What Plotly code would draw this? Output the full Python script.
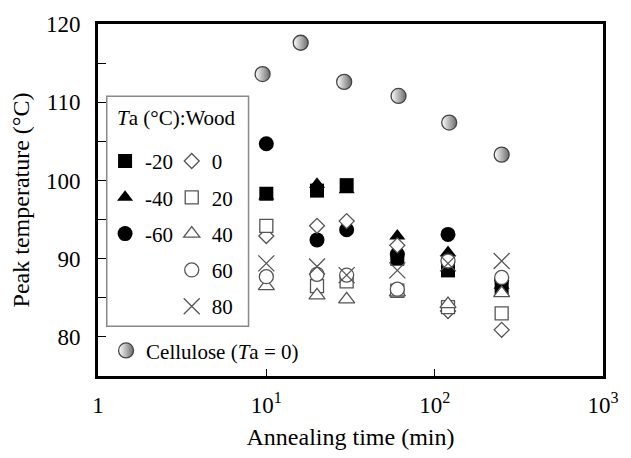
import plotly.graph_objects as go

# ---- data ----
times = [10, 20, 30, 60, 120, 250]
ta_m20 = [98.3, 98.7, 99.4, 90.0, 88.5, 86.0]
ta_m40 = [98.0, 99.5, 98.8, 92.9, 90.8, 86.6]
ta_m60 = [104.7, 92.4, 93.7, 90.6, 93.1, 87.2]
ta_0 = [92.9, 94.2, 94.8, 91.7, 83.3, 80.9]
ta_20 = [94.2, 86.5, 87.1, 85.9, 83.8, 83.0]
ta_40 = [86.5, 85.3, 84.8, 85.7, 84.2, 85.6]
ta_60 = [87.7, 88.0, 87.9, 86.1, 89.7, 87.6]
ta_80 = [89.4, 89.0, 87.9, 88.5, 89.4, 89.7]

cell_times = [9.5, 16, 29, 61, 122, 250]
cell_vals = [113.6, 117.6, 112.6, 110.8, 107.4, 103.3]

xtick_vals = [1, 10, 100, 1000]
xtick_text = ["1", "10<sup>1</sup>", "10<sup>2</sup>", "10<sup>3</sup>"]
ytick_vals = [80, 90, 100, 110, 120]

FONT = "Liberation Serif"
GRAY = "#555555"
LFS = 21

fig = go.Figure()

filled = [("-20", ta_m20, "square", 14), ("-40", ta_m40, "triangle-up", 14), ("-60", ta_m60, "circle", 15)]
for name, vals, sym, sz in filled:
    fig.add_trace(go.Scatter(
        x=times, y=vals, mode="markers", name=name, legend="legend",
        legendgroup="g" + name,
        marker=dict(symbol=sym, size=sz, color="black", line=dict(width=0))))

openm = [("0", ta_0, "diamond", 11.5), ("20", ta_20, "square", 13), ("40", ta_40, "triangle-up", 14),
         ("60", ta_60, "circle", 14)]
for name, vals, sym, sz in openm:
    fig.add_trace(go.Scatter(
        x=times, y=vals, mode="markers", name=name, legend="legend2",
        legendgroup="h" + name,
        marker=dict(symbol=sym, size=sz, color="white", line=dict(width=1.3, color=GRAY))))
fig.add_trace(go.Scatter(
    x=times, y=ta_80, mode="markers", name="80", legend="legend2", legendgroup="h80",
    marker=dict(symbol="x-thin-open", size=16, color=GRAY, line=dict(width=1.3, color=GRAY))))

fig.add_trace(go.Scatter(
    x=cell_times, y=cell_vals, mode="markers", name="Cellulose (<i>T</i>a = 0)", legend="legend3",
    marker=dict(symbol="circle", size=15, color="white",
                gradient=dict(type="horizontal", color="#6a6a6a"),
                line=dict(width=1.3, color="#444444"))))

legend_common = dict(bgcolor="rgba(0,0,0,0)", borderwidth=0,
                     font=dict(family=FONT, size=LFS, color="black"),
                     traceorder="grouped", tracegroupgap=6,
                     xanchor="left", yanchor="top", itemclick=False)

fig.update_layout(
    width=631, height=458,
    margin=dict(l=98, r=13, t=20, b=78),
    paper_bgcolor="white", plot_bgcolor="white",
    font=dict(family=FONT, size=20, color="black"),
    showlegend=True,
    legend=dict(x=0.014, y=0.668, **legend_common),
    legend2=dict(x=0.146, y=0.668, **legend_common),
    legend3=dict(x=0.016, y=0.13, **legend_common),
    xaxis=dict(type="log", range=[0, 3], tickvals=xtick_vals, ticktext=xtick_text,
               ticks="inside", ticklen=7, tickwidth=1.2, tickcolor="black",
               showline=True, linewidth=3, linecolor="black", mirror=True,
               showgrid=False, zeroline=False, ticklabelstandoff=6,
               ticklabeloverflow="allow",
               tickfont=dict(family=FONT, size=23),
               title=dict(text="Annealing time (min)", font=dict(family=FONT, size=24), standoff=12)),
    yaxis=dict(range=[75, 120], tickvals=ytick_vals,
               ticks="inside", ticklen=8, tickwidth=1.2, tickcolor="black",
               minor=dict(dtick=5, tick0=75, ticks="inside", ticklen=8, tickwidth=1.2, tickcolor="black"),
               showline=True, linewidth=3, linecolor="black", mirror=True,
               showgrid=False, zeroline=False, ticklabelstandoff=10,
               ticklabeloverflow="allow",
               tickfont=dict(family=FONT, size=23),
               title=dict(text="Peak temperature (°C)", font=dict(family=FONT, size=24), standoff=10)),
    shapes=[dict(type="rect", xref="paper", yref="paper",
                 x0=(107 - 98) / 520, x1=(253 - 98) / 520,
                 y0=(380 - 329) / 360, y1=(380 - 94) / 360,
                 line=dict(color="#888888", width=1.5), fillcolor="rgba(0,0,0,0)", layer="below")],
    annotations=[dict(text="<i>T</i>a (°C):Wood", xref="paper", yref="paper",
                      x=(116 - 98) / 520, y=(380 - 116) / 360, xanchor="left", yanchor="middle",
                      showarrow=False, font=dict(family=FONT, size=LFS, color="black"))],
)

fig.write_html("out.html")
